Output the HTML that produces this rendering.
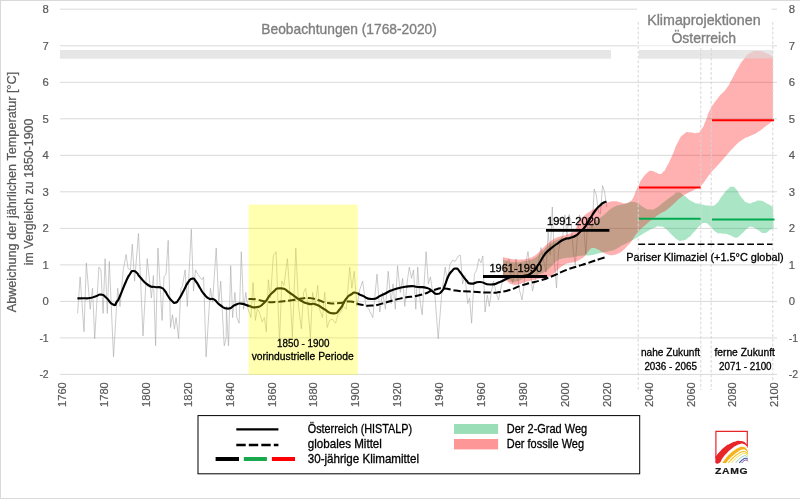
<!DOCTYPE html>
<html lang="de"><head><meta charset="utf-8"><title>Temperatur Österreich</title>
<style>html,body{margin:0;padding:0;background:#fff}body{width:800px;height:499px;overflow:hidden}svg{display:block}</style>
</head><body>
<svg width="800" height="499" viewBox="0 0 800 499" font-family="Liberation Sans, Arial, sans-serif">
<rect x="0" y="0" width="800" height="499" fill="#fff"/>
<line x1="60" x2="777" y1="374.4" y2="374.4" stroke="#d9d9d9" stroke-width="1"/>
<line x1="60" x2="777" y1="337.9" y2="337.9" stroke="#d9d9d9" stroke-width="1"/>
<line x1="60" x2="777" y1="301.4" y2="301.4" stroke="#d9d9d9" stroke-width="1"/>
<line x1="60" x2="777" y1="264.9" y2="264.9" stroke="#d9d9d9" stroke-width="1"/>
<line x1="60" x2="777" y1="228.4" y2="228.4" stroke="#d9d9d9" stroke-width="1"/>
<line x1="60" x2="777" y1="191.8" y2="191.8" stroke="#d9d9d9" stroke-width="1"/>
<line x1="60" x2="777" y1="155.3" y2="155.3" stroke="#d9d9d9" stroke-width="1"/>
<line x1="60" x2="777" y1="118.8" y2="118.8" stroke="#d9d9d9" stroke-width="1"/>
<line x1="60" x2="777" y1="82.3" y2="82.3" stroke="#d9d9d9" stroke-width="1"/>
<line x1="60" x2="777" y1="45.8" y2="45.8" stroke="#d9d9d9" stroke-width="1"/>
<line x1="60" x2="777" y1="9.2" y2="9.2" stroke="#d9d9d9" stroke-width="1"/>
<rect x="60" y="50" width="551" height="8.7" fill="#e6e6e6"/>
<rect x="639" y="50" width="133.8" height="8.7" fill="#e6e6e6"/>
<path d="M77.6,313.4 L80.1,276.9 L84.0,331.7 L86.3,262.9 L90.2,309.2 L92.5,288.2 L94.7,338.7 L98.9,267.1 L100.9,269.9 L103.1,313.4 L105.1,258.7 L107.3,313.4 L109.3,261.5 L113.5,356.9 L117.7,288.2 L120.0,306.4 L123.3,269.9 L126.1,254.5 L128.1,268.5 L130.4,269.9 L132.3,244.1 L134.6,281.1 L138.5,233.4 L143.0,335.9 L147.2,258.7 L151.4,298.0 L153.4,275.5 L155.6,345.7 L157.9,248.0 L162.1,320.4 L164.0,276.9 L166.0,274.1 L168.2,240.4 L170.5,327.5 L172.5,314.8 L174.4,328.9 L176.1,317.6 L178.6,338.7 L180.9,288.2 L182.3,286.8 L185.1,269.9 L187.3,306.4 L191.3,229.2 L193.5,291.0 L195.5,269.9 L197.7,274.1 L201.9,279.7 L203.6,276.9 L206.1,356.9 L210.4,288.2 L212.6,302.2 L216.2,248.0 L218.8,303.6 L220.7,281.1 L222.2,309.2 L224.2,345.7 L224.4,345.7 L226.2,337.3 L226.4,306.4 L228.4,345.7 L228.6,345.7 L230.7,265.7 L232.6,317.6 L234.9,292.4 L236.8,317.6 L239.1,323.2 L241.3,251.7 L243.6,309.2 L245.8,292.4 L248.1,309.2 L250.9,317.6 L253.1,282.5 L255.4,320.4 L257.3,309.2 L259.3,312.0 L262.1,321.8 L264.4,317.6 L266.3,331.7 L268.3,279.7 L270.5,298.0 L273.3,255.9 L276.1,251.7 L279.5,342.9 L281.8,281.1 L284.0,285.4 L287.4,258.7 L290.2,298.0 L292.4,337.3 L295.8,248.0 L298.6,306.4 L301.4,328.9 L303.6,292.4 L305.6,288.2 L307.6,303.6 L310.4,337.3 L312.6,292.4 L314.9,306.4 L317.7,285.4 L319.6,309.2 L322.5,317.6 L324.7,292.4 L327.2,327.5 L329.5,320.4 L332.3,319.0 L335.6,323.2 L337.9,314.8 L340.7,312.0 L343.5,306.4 L346.3,309.2 L349.7,267.1 L351.9,288.2 L354.2,271.3 L357.0,306.4 L359.8,289.6 L362.6,281.1 L366.0,306.4 L368.8,309.2 L372.8,317.6 L377.0,274.1 L379.8,312.0 L382.6,292.4 L385.4,309.2 L388.2,271.3 L391.1,303.6 L393.0,283.9 L395.3,309.2 L397.5,265.7 L400.3,292.4 L402.6,278.3 L404.8,306.4 L407.3,281.1 L409.3,267.1 L411.5,278.3 L413.5,269.9 L415.8,309.2 L417.7,267.1 L420.0,300.8 L422.2,314.8 L426.1,251.7 L428.4,283.9 L430.4,276.9 L432.3,289.6 L434.6,291.0 L438.2,338.7 L441.6,295.2 L445.2,267.1 L447.2,281.1 L450.0,264.3 L452.8,260.1 L455.1,261.5 L458.4,255.9 L460.4,255.3 L462.6,283.9 L464.9,275.5 L467.7,303.6 L469.6,298.0 L471.6,323.2 L474.4,274.1 L476.7,269.9 L478.9,258.7 L480.9,262.9 L482.8,255.9 L485.1,312.0 L487.3,295.2 L489.3,306.4 L491.3,292.4 L493.5,281.1 L496.0,292.0 L498.5,300.0 L500.5,290.0 L502.5,281.0 L504.7,270.0 L506.8,262.0 L509.0,259.0 L511.0,275.0 L512.8,283.0 L516.0,259.0 L518.0,280.0 L519.5,290.0 L522.0,300.0 L524.0,285.0 L526.0,262.0 L528.0,251.5 L530.0,268.0 L532.5,291.0 L535.0,280.0 L537.0,275.0 L539.0,258.0 L541.0,247.5 L543.9,262.0 L546.0,272.0 L548.1,232.0 L550.2,255.0 L552.3,207.0 L554.4,262.0 L556.5,288.0 L558.6,250.0 L560.7,240.0 L562.8,236.0 L564.9,215.0 L567.0,236.0 L569.1,214.5 L571.1,222.0 L573.2,250.0 L575.3,265.0 L577.4,236.0 L579.5,215.0 L581.6,222.0 L583.7,226.0 L585.8,254.0 L587.9,218.0 L590.0,222.0 L592.1,228.0 L594.2,189.0 L596.3,195.0 L598.4,212.0 L600.4,214.0 L602.5,185.5 L604.6,192.0 L606.7,207.0" fill="none" stroke="#a8a8a8" stroke-width="0.6" stroke-linejoin="round"/>
<path d="M503.0,259.5 C505.0,260.2 504.7,260.6 509.0,261.5 C513.3,262.4 511.7,262.1 516.0,262.2 C520.3,262.3 518.0,262.4 522.0,261.8 C526.0,261.2 524.0,261.6 528.0,260.5 C532.0,259.4 530.3,260.5 534.0,258.5 C537.7,256.5 535.7,257.5 539.0,254.5 C542.3,251.5 540.7,252.7 544.0,249.5 C547.3,246.3 545.7,247.7 549.0,245.0 C552.3,242.3 550.7,243.5 554.0,241.5 C557.3,239.5 555.7,240.3 559.0,239.0 C562.3,237.7 560.7,238.3 564.0,237.5 C567.3,236.7 565.7,237.2 569.0,236.5 C572.3,235.8 571.0,236.0 574.0,235.5 C577.0,235.0 574.3,236.8 578.0,235.0 C581.7,233.2 581.0,233.2 585.0,230.0 C589.0,226.8 586.7,228.3 590.0,225.5 C593.3,222.7 591.7,224.0 595.0,221.5 C598.3,219.0 596.7,220.5 600.0,218.0 C603.3,215.5 601.7,216.8 605.0,214.0 C608.3,211.2 606.7,212.0 610.0,209.5 C613.3,207.0 611.7,208.0 615.0,206.5 C618.3,205.0 616.7,205.8 620.0,205.0 C623.3,204.2 621.7,204.9 625.0,204.0 C628.3,203.1 627.0,203.0 630.0,202.3 C633.0,201.6 631.3,201.6 634.0,202.0 C636.7,202.4 634.7,201.7 638.0,203.5 C641.3,205.3 640.0,205.5 644.0,207.5 C648.0,209.5 646.0,209.3 650.0,209.5 C654.0,209.7 651.3,210.5 656.0,208.0 C660.7,205.5 658.7,206.0 664.0,202.0 C669.3,198.0 667.3,199.2 672.0,196.0 C676.7,192.8 674.0,192.7 678.0,192.5 C682.0,192.3 679.3,192.5 684.0,195.5 C688.7,198.5 686.7,198.7 692.0,201.5 C697.3,204.3 694.0,202.6 700.0,204.0 C706.0,205.4 704.7,205.6 710.0,205.6 C715.3,205.6 712.0,207.2 716.0,204.0 C720.0,200.8 718.0,201.0 722.0,196.0 C726.0,191.0 724.7,192.1 728.0,189.0 C731.3,185.9 729.3,186.8 732.0,186.8 C734.7,186.8 732.7,185.3 736.0,189.0 C739.3,192.7 738.0,193.3 742.0,198.0 C746.0,202.7 744.0,201.7 748.0,203.0 C752.0,204.3 750.0,202.8 754.0,202.0 C758.0,201.2 755.3,199.9 760.0,200.6 C764.7,201.3 763.7,201.9 768.0,204.0 C772.3,206.1 771.3,206.0 773.0,207.0 L773.6,228.0 C772.4,228.7 773.2,228.3 770.0,230.0 C766.8,231.7 768.0,233.0 764.0,233.0 C760.0,233.0 762.0,232.0 758.0,230.0 C754.0,228.0 755.3,227.7 752.0,227.0 C748.7,226.3 751.3,225.8 748.0,228.0 C744.7,230.2 745.7,230.4 742.0,233.6 C738.3,236.8 739.7,236.5 737.0,237.6 C734.3,238.7 737.0,238.1 734.0,237.0 C731.0,235.9 732.0,235.5 728.0,234.4 C724.0,233.3 726.0,234.4 722.0,233.6 C718.0,232.8 720.0,234.5 716.0,232.0 C712.0,229.5 713.7,229.0 710.0,226.0 C706.3,223.0 708.3,223.2 705.0,223.0 C701.7,222.8 703.7,222.5 700.0,225.5 C696.3,228.5 698.0,227.8 694.0,232.0 C690.0,236.2 692.0,235.1 688.0,238.0 C684.0,240.9 685.3,239.9 682.0,240.6 C678.7,241.3 681.3,241.9 678.0,240.0 C674.7,238.1 676.0,238.7 672.0,235.0 C668.0,231.3 670.0,231.9 666.0,229.0 C662.0,226.1 664.0,226.7 660.0,226.4 C656.0,226.1 658.7,226.1 654.0,228.0 C649.3,229.9 651.3,229.0 646.0,232.0 C640.7,235.0 643.3,233.8 638.0,237.0 C632.7,240.2 633.8,239.4 630.0,241.5 C626.2,243.6 629.3,241.8 626.6,243.2 C623.9,244.6 625.4,243.6 621.8,245.6 C618.2,247.6 619.8,247.4 615.8,249.2 C611.8,251.0 614.2,249.9 609.8,251.0 C605.4,252.1 607.0,251.6 602.6,252.6 C598.2,253.6 600.5,253.1 596.5,254.0 C592.5,254.9 595.3,254.7 590.5,255.3 C585.7,255.9 586.8,255.4 582.0,255.8 C577.2,256.2 579.7,255.9 576.0,256.5 C572.3,257.1 574.3,257.1 571.0,257.6 C567.7,258.1 569.3,257.5 566.0,258.0 C562.7,258.5 564.3,257.8 561.0,259.0 C557.7,260.2 559.0,259.3 556.0,261.5 C553.0,263.7 554.7,262.8 552.0,265.5 C549.3,268.2 550.7,267.2 548.0,269.5 C545.3,271.8 547.3,270.8 544.0,272.5 C540.7,274.2 542.3,273.3 538.0,274.5 C533.7,275.7 535.7,274.7 531.0,276.0 C526.3,277.3 528.3,276.8 524.0,278.5 C519.7,280.2 521.7,280.0 518.0,281.0 C514.3,282.0 516.3,282.0 513.0,281.5 C509.7,281.0 511.3,281.8 508.0,279.5 C504.7,277.2 504.7,276.2 503.0,274.5 Z" fill="rgb(0,176,80)" fill-opacity="0.333"/>
<path d="M503.0,257.0 C505.0,257.5 504.7,257.7 509.0,258.5 C513.3,259.3 511.7,259.2 516.0,259.5 C520.3,259.8 518.0,259.8 522.0,259.5 C526.0,259.2 524.0,259.7 528.0,258.5 C532.0,257.3 530.3,258.2 534.0,256.0 C537.7,253.8 535.7,255.0 539.0,252.0 C542.3,249.0 540.7,250.2 544.0,247.0 C547.3,243.8 545.7,245.2 549.0,242.5 C552.3,239.8 550.7,240.9 554.0,239.0 C557.3,237.1 555.7,238.0 559.0,236.8 C562.3,235.6 560.7,236.4 564.0,235.5 C567.3,234.6 565.7,235.5 569.0,234.0 C572.3,232.5 571.3,233.7 574.0,231.0 C576.7,228.3 575.0,229.7 577.0,226.0 C579.0,222.3 577.3,223.7 580.0,220.0 C582.7,216.3 581.7,217.8 585.0,215.0 C588.3,212.2 586.7,213.7 590.0,211.5 C593.3,209.3 591.7,210.3 595.0,208.5 C598.3,206.7 596.7,207.7 600.0,206.0 C603.3,204.3 601.7,204.9 605.0,203.5 C608.3,202.1 606.7,202.6 610.0,201.8 C613.3,201.0 611.7,201.1 615.0,201.2 C618.3,201.3 616.7,201.5 620.0,202.2 C623.3,202.9 621.7,203.4 625.0,203.2 C628.3,203.0 627.3,203.2 630.0,201.5 C632.7,199.8 631.0,201.5 633.0,198.0 C635.0,194.5 634.0,195.5 636.0,191.0 C638.0,186.5 637.0,188.5 639.0,184.5 C641.0,180.5 639.0,183.2 642.0,179.0 C645.0,174.8 644.7,174.7 648.0,172.0 C651.3,169.3 649.3,170.8 652.0,171.0 C654.7,171.2 653.3,171.5 656.0,172.5 C658.7,173.5 657.7,174.2 660.0,174.0 C662.3,173.8 661.0,174.0 663.0,172.0 C665.0,170.0 663.0,173.3 666.0,168.0 C669.0,162.7 668.0,164.7 672.0,156.0 C676.0,147.3 674.0,149.3 678.0,142.0 C682.0,134.7 680.0,137.2 684.0,134.0 C688.0,130.8 686.0,132.7 690.0,132.4 C694.0,132.1 692.3,133.8 696.0,133.0 C699.7,132.2 697.7,134.3 701.0,130.0 C704.3,125.7 703.0,126.7 706.0,120.0 C709.0,113.3 706.0,117.3 710.0,110.0 C714.0,102.7 712.7,105.0 718.0,98.0 C723.3,91.0 721.3,95.3 726.0,89.0 C730.7,82.7 728.0,86.0 732.0,79.0 C736.0,72.0 734.0,74.7 738.0,68.0 C742.0,61.3 740.0,64.0 744.0,59.0 C748.0,54.0 745.3,55.7 750.0,53.0 C754.7,50.3 752.7,51.0 758.0,51.0 C763.3,51.0 761.0,51.0 766.0,53.0 C771.0,55.0 770.7,55.7 773.0,57.0 L773.0,121.0 C770.7,122.7 771.0,122.3 766.0,126.0 C761.0,129.7 763.3,128.7 758.0,132.0 C752.7,135.3 755.3,133.3 750.0,136.0 C744.7,138.7 747.3,136.3 742.0,140.0 C736.7,143.7 739.3,141.7 734.0,147.0 C728.7,152.3 731.3,150.0 726.0,156.0 C720.7,162.0 723.3,159.0 718.0,165.0 C712.7,171.0 715.7,167.0 710.0,174.0 C704.3,181.0 705.7,181.0 701.0,186.0 C696.3,191.0 701.0,186.3 696.0,189.0 C691.0,191.7 691.5,190.8 686.0,194.0 C680.5,197.2 683.8,195.0 679.5,198.5 C675.2,202.0 677.3,200.7 673.0,204.5 C668.7,208.3 670.9,206.9 666.6,210.0 C662.3,213.1 664.2,211.0 660.0,213.7 C655.8,216.4 658.7,214.4 654.0,218.0 C649.3,221.6 651.3,219.8 646.0,224.5 C640.7,229.2 642.9,226.4 638.0,232.0 C633.1,237.6 634.8,236.9 631.4,241.4 C628.0,245.9 630.6,242.6 627.8,245.6 C625.0,248.6 626.2,247.9 623.0,250.5 C619.8,253.1 621.4,252.0 618.2,253.5 C615.0,255.0 616.6,254.5 613.4,254.9 C610.2,255.3 612.2,255.6 608.6,254.7 C605.0,253.8 606.1,254.0 602.6,252.3 C599.1,250.6 601.2,250.9 598.0,249.5 C594.8,248.1 596.0,247.7 593.0,248.0 C590.0,248.3 591.4,248.2 589.0,250.5 C586.6,252.8 588.0,252.4 585.7,255.0 C583.4,257.6 585.2,256.1 582.0,258.3 C578.8,260.5 579.7,260.0 576.0,261.5 C572.3,263.0 574.3,262.0 571.0,262.8 C567.7,263.6 569.3,262.6 566.0,264.0 C562.7,265.4 564.3,264.5 561.0,267.0 C557.7,269.5 559.0,268.8 556.0,271.5 C553.0,274.2 554.7,273.2 552.0,275.0 C549.3,276.8 550.7,276.2 548.0,277.0 C545.3,277.8 547.3,276.8 544.0,277.5 C540.7,278.2 542.3,278.0 538.0,279.0 C533.7,280.0 535.7,279.3 531.0,280.5 C526.3,281.7 528.3,281.2 524.0,282.5 C519.7,283.8 521.7,283.8 518.0,284.5 C514.3,285.2 516.3,285.3 513.0,284.5 C509.7,283.7 511.3,284.8 508.0,282.0 C504.7,279.2 504.7,278.0 503.0,276.0 Z" fill="rgb(255,0,0)" fill-opacity="0.31"/>
<rect x="738" y="50" width="35" height="8.6" fill="#e6e6e6" fill-opacity="0.62"/>
<rect x="637" y="2" width="134.5" height="46" fill="#fff"/>
<line x1="637" x2="771.5" y1="45.7" y2="45.7" stroke="#ececec" stroke-width="1"/>
<line x1="638.2" x2="638.2" y1="22" y2="390" stroke="#d6d6d6" stroke-width="1" stroke-dasharray="2.9,1.9"/>
<line x1="700.8" x2="700.8" y1="48" y2="390" stroke="#d6d6d6" stroke-width="1" stroke-dasharray="2.9,1.9"/>
<line x1="711.2" x2="711.2" y1="48" y2="390" stroke="#d6d6d6" stroke-width="1" stroke-dasharray="2.9,1.9"/>
<line x1="772.8" x2="772.8" y1="22" y2="381" stroke="#d6d6d6" stroke-width="1" stroke-dasharray="2.9,1.9"/>
<path d="M248.6,299.0 C251.1,299.1 250.2,298.5 256.0,299.4 C261.8,300.3 259.3,300.7 266.0,301.6 C272.7,302.5 268.0,302.4 276.0,302.0 C284.0,301.6 281.3,301.5 290.0,300.4 C298.7,299.3 295.7,299.4 302.0,298.6 C308.3,297.8 303.7,297.5 309.0,298.0 C314.3,298.5 311.7,298.3 318.0,300.0 C324.3,301.7 320.7,302.0 328.0,303.0 C335.3,304.0 332.7,303.5 340.0,303.0 C347.3,302.5 343.3,301.0 350.0,301.5 C356.7,302.0 352.7,303.0 360.0,304.4 C367.3,305.8 364.7,305.9 372.0,305.6 C379.3,305.3 372.7,305.9 382.0,303.6 C391.3,301.3 387.3,301.5 400.0,298.6 C412.7,295.7 408.7,297.9 420.0,295.0 C431.3,292.1 426.0,292.2 434.0,290.0 C442.0,287.8 436.7,288.2 444.0,288.4 C451.3,288.6 447.3,289.5 456.0,290.6 C464.7,291.7 458.7,290.9 470.0,291.6 C481.3,292.3 480.0,292.5 490.0,292.6 C500.0,292.7 493.5,292.9 500.0,292.0 C506.5,291.1 502.9,292.0 509.6,290.0 C516.3,288.0 513.2,288.3 520.0,286.0 C526.8,283.7 523.3,284.8 530.0,283.0 C536.7,281.2 532.7,282.7 540.0,280.5 C547.3,278.3 544.0,279.5 552.0,276.3 C560.0,273.1 556.0,274.1 564.0,270.9 C572.0,267.7 568.0,269.3 576.0,266.7 C584.0,264.1 580.0,265.6 588.0,263.0 C596.0,260.4 594.2,260.8 600.0,258.9 C605.8,257.0 603.7,257.8 605.5,257.2" fill="none" stroke="#000" stroke-width="2" stroke-dasharray="7.2,2.8"/>
<path d="M77.4,298.4 C79.6,298.4 79.8,298.4 84.0,298.3 C88.2,298.2 86.0,298.7 90.0,298.0 C94.0,297.3 92.3,297.3 96.0,296.2 C99.7,295.1 97.7,294.2 101.0,294.6 C104.3,295.0 102.0,294.2 106.0,297.5 C110.0,300.8 109.3,303.3 113.0,304.6 C116.7,305.9 114.7,304.4 117.0,301.5 C119.3,298.6 117.0,302.7 120.0,296.0 C123.0,289.3 122.7,288.8 126.0,281.5 C129.3,274.2 127.7,277.5 130.0,274.0 C132.3,270.5 130.7,271.3 133.0,271.0 C135.3,270.7 134.7,271.0 137.0,273.0 C139.3,275.0 136.3,273.0 140.0,277.0 C143.7,281.0 143.0,281.7 148.0,285.0 C153.0,288.3 150.7,286.1 155.0,287.0 C159.3,287.9 157.7,286.3 161.0,287.6 C164.3,288.9 162.7,288.2 165.0,291.0 C167.3,293.8 165.7,292.7 168.0,296.0 C170.3,299.3 169.5,298.8 172.0,301.0 C174.5,303.2 173.1,303.3 175.4,302.6 C177.7,301.9 176.1,303.2 179.0,299.0 C181.9,294.8 181.0,295.5 184.0,290.0 C187.0,284.5 185.2,286.3 188.0,282.5 C190.8,278.7 189.7,278.9 192.4,278.6 C195.1,278.3 193.5,278.4 196.0,281.5 C198.5,284.6 197.3,283.8 200.0,288.0 C202.7,292.2 201.0,290.5 204.0,294.0 C207.0,297.5 205.7,296.8 209.0,298.6 C212.3,300.4 210.3,297.3 214.0,299.4 C217.7,301.5 215.3,301.9 220.0,305.0 C224.7,308.1 223.0,308.6 228.0,308.6 C233.0,308.6 230.7,306.7 235.0,305.0 C239.3,303.3 236.7,303.4 241.0,303.6 C245.3,303.8 243.0,304.4 248.0,305.6 C253.0,306.8 250.7,308.1 256.0,307.2 C261.3,306.3 258.7,307.7 264.0,303.0 C269.3,298.3 266.3,297.9 272.0,293.0 C277.7,288.1 275.0,288.4 281.0,288.4 C287.0,288.4 283.7,289.1 290.0,293.0 C296.3,296.9 294.0,296.5 300.0,300.0 C306.0,303.5 302.7,302.1 308.0,303.6 C313.3,305.1 310.7,302.6 316.0,304.4 C321.3,306.2 318.3,306.0 324.0,309.0 C329.7,312.0 327.7,313.4 333.0,313.4 C338.3,313.4 335.7,313.8 340.0,309.0 C344.3,304.2 342.3,303.8 346.0,299.0 C349.7,294.2 347.8,296.6 351.0,294.5 C354.2,292.4 351.8,292.4 355.5,292.8 C359.2,293.2 356.5,293.5 362.0,295.6 C367.5,297.7 365.3,299.2 372.0,299.0 C378.7,298.8 374.7,298.1 382.0,295.0 C389.3,291.9 385.3,292.5 394.0,289.6 C402.7,286.7 400.0,287.3 408.0,286.4 C416.0,285.5 411.7,286.5 418.0,287.0 C424.3,287.5 422.3,286.7 427.0,288.0 C431.7,289.3 428.7,289.0 432.0,291.0 C435.3,293.0 433.7,294.0 437.0,294.0 C440.3,294.0 439.3,294.0 442.0,291.0 C444.7,288.0 443.0,289.7 445.0,285.0 C447.0,280.3 445.7,281.7 448.0,277.0 C450.3,272.3 449.3,273.8 452.0,271.0 C454.7,268.2 453.3,268.3 456.0,268.6 C458.7,268.9 456.7,268.2 460.0,272.0 C463.3,275.8 462.3,276.1 466.0,280.0 C469.7,283.9 466.3,282.9 471.0,283.6 C475.7,284.3 473.7,281.7 480.0,282.0 C486.3,282.3 483.3,284.5 490.0,284.5 C496.7,284.5 493.5,284.4 500.0,282.0 C506.5,279.6 503.9,279.3 509.6,277.4 C515.3,275.5 512.2,276.8 517.0,276.3 C521.8,275.8 519.0,277.0 524.0,275.8 C529.0,274.6 527.2,276.4 532.0,272.6 C536.8,268.8 534.7,269.9 538.5,264.5 C542.3,259.1 540.1,261.0 543.3,256.5 C546.5,252.0 543.8,254.9 548.0,250.9 C552.2,246.9 550.7,248.3 556.0,244.5 C561.3,240.7 559.3,241.7 564.0,239.5 C568.7,237.3 566.0,239.3 570.0,238.0 C574.0,236.7 572.7,237.5 576.0,235.5 C579.3,233.5 577.0,234.8 580.0,232.0 C583.0,229.2 581.7,231.3 585.0,227.0 C588.3,222.7 586.7,224.3 590.0,219.0 C593.3,213.7 591.7,215.5 595.0,211.0 C598.3,206.5 597.0,208.3 600.0,205.5 C603.0,202.7 601.8,203.7 604.0,202.5 C606.2,201.3 605.7,202.0 606.5,201.8" fill="none" stroke="#000" stroke-width="2.15" stroke-linejoin="round"/>
<line x1="483" x2="547" y1="276.5" y2="276.5" stroke="#000" stroke-width="2.8"/>
<line x1="546" x2="609.4" y1="230.4" y2="230.4" stroke="#000" stroke-width="2.8"/>
<line x1="639" x2="700.6" y1="187.4" y2="187.4" stroke="#ff0000" stroke-width="2.0"/>
<line x1="712" x2="774" y1="120.3" y2="120.3" stroke="#ff0000" stroke-width="2.0"/>
<line x1="639" x2="700.6" y1="218.8" y2="218.8" stroke="#00a84f" stroke-width="2.0"/>
<line x1="712" x2="774.5" y1="219.5" y2="219.5" stroke="#00a84f" stroke-width="2.0"/>
<line x1="638.3" x2="772.5" y1="244.2" y2="244.2" stroke="#000" stroke-width="1.6" stroke-dasharray="6.8,3.1"/>
<rect x="248.6" y="204.6" width="109.2" height="170.3" fill="rgb(255,255,0)" fill-opacity="0.314"/>
<text x="39.4" y="378.4" font-size="11.20" fill="#595959" textLength="9.3" lengthAdjust="spacingAndGlyphs" stroke="#595959" stroke-width="0.20">-2</text>
<text x="788.7" y="378.4" font-size="11.20" fill="#595959" textLength="9.3" lengthAdjust="spacingAndGlyphs" stroke="#595959" stroke-width="0.20">-2</text>
<text x="39.4" y="341.9" font-size="11.20" fill="#595959" textLength="9.3" lengthAdjust="spacingAndGlyphs" stroke="#595959" stroke-width="0.20">-1</text>
<text x="788.7" y="341.9" font-size="11.20" fill="#595959" textLength="9.3" lengthAdjust="spacingAndGlyphs" stroke="#595959" stroke-width="0.20">-1</text>
<text x="42.4" y="305.4" font-size="11.20" fill="#595959" textLength="6.3" lengthAdjust="spacingAndGlyphs" stroke="#595959" stroke-width="0.20">0</text>
<text x="788.7" y="305.4" font-size="11.20" fill="#595959" textLength="6.3" lengthAdjust="spacingAndGlyphs" stroke="#595959" stroke-width="0.20">0</text>
<text x="42.4" y="268.9" font-size="11.20" fill="#595959" textLength="6.3" lengthAdjust="spacingAndGlyphs" stroke="#595959" stroke-width="0.20">1</text>
<text x="788.7" y="268.9" font-size="11.20" fill="#595959" textLength="6.3" lengthAdjust="spacingAndGlyphs" stroke="#595959" stroke-width="0.20">1</text>
<text x="42.4" y="232.4" font-size="11.20" fill="#595959" textLength="6.3" lengthAdjust="spacingAndGlyphs" stroke="#595959" stroke-width="0.20">2</text>
<text x="788.7" y="232.4" font-size="11.20" fill="#595959" textLength="6.3" lengthAdjust="spacingAndGlyphs" stroke="#595959" stroke-width="0.20">2</text>
<text x="42.4" y="195.8" font-size="11.20" fill="#595959" textLength="6.3" lengthAdjust="spacingAndGlyphs" stroke="#595959" stroke-width="0.20">3</text>
<text x="788.7" y="195.8" font-size="11.20" fill="#595959" textLength="6.3" lengthAdjust="spacingAndGlyphs" stroke="#595959" stroke-width="0.20">3</text>
<text x="42.4" y="159.3" font-size="11.20" fill="#595959" textLength="6.3" lengthAdjust="spacingAndGlyphs" stroke="#595959" stroke-width="0.20">4</text>
<text x="788.7" y="159.3" font-size="11.20" fill="#595959" textLength="6.3" lengthAdjust="spacingAndGlyphs" stroke="#595959" stroke-width="0.20">4</text>
<text x="42.4" y="122.8" font-size="11.20" fill="#595959" textLength="6.3" lengthAdjust="spacingAndGlyphs" stroke="#595959" stroke-width="0.20">5</text>
<text x="788.7" y="122.8" font-size="11.20" fill="#595959" textLength="6.3" lengthAdjust="spacingAndGlyphs" stroke="#595959" stroke-width="0.20">5</text>
<text x="42.4" y="86.3" font-size="11.20" fill="#595959" textLength="6.3" lengthAdjust="spacingAndGlyphs" stroke="#595959" stroke-width="0.20">6</text>
<text x="788.7" y="86.3" font-size="11.20" fill="#595959" textLength="6.3" lengthAdjust="spacingAndGlyphs" stroke="#595959" stroke-width="0.20">6</text>
<text x="42.4" y="49.8" font-size="11.20" fill="#595959" textLength="6.3" lengthAdjust="spacingAndGlyphs" stroke="#595959" stroke-width="0.20">7</text>
<text x="788.7" y="49.8" font-size="11.20" fill="#595959" textLength="6.3" lengthAdjust="spacingAndGlyphs" stroke="#595959" stroke-width="0.20">7</text>
<text x="42.4" y="13.2" font-size="11.20" fill="#595959" textLength="6.3" lengthAdjust="spacingAndGlyphs" stroke="#595959" stroke-width="0.20">8</text>
<text x="788.7" y="13.2" font-size="11.20" fill="#595959" textLength="6.3" lengthAdjust="spacingAndGlyphs" stroke="#595959" stroke-width="0.20">8</text>
<text transform="translate(66.0,407) rotate(-90)" font-size="11.0" stroke="#595959" stroke-width="0.2" fill="#595959" textLength="24.8" lengthAdjust="spacingAndGlyphs">1760</text>
<text transform="translate(107.9,407) rotate(-90)" font-size="11.0" stroke="#595959" stroke-width="0.2" fill="#595959" textLength="24.8" lengthAdjust="spacingAndGlyphs">1780</text>
<text transform="translate(149.8,407) rotate(-90)" font-size="11.0" stroke="#595959" stroke-width="0.2" fill="#595959" textLength="24.8" lengthAdjust="spacingAndGlyphs">1800</text>
<text transform="translate(191.7,407) rotate(-90)" font-size="11.0" stroke="#595959" stroke-width="0.2" fill="#595959" textLength="24.8" lengthAdjust="spacingAndGlyphs">1820</text>
<text transform="translate(233.6,407) rotate(-90)" font-size="11.0" stroke="#595959" stroke-width="0.2" fill="#595959" textLength="24.8" lengthAdjust="spacingAndGlyphs">1840</text>
<text transform="translate(275.5,407) rotate(-90)" font-size="11.0" stroke="#595959" stroke-width="0.2" fill="#595959" textLength="24.8" lengthAdjust="spacingAndGlyphs">1860</text>
<text transform="translate(317.4,407) rotate(-90)" font-size="11.0" stroke="#595959" stroke-width="0.2" fill="#595959" textLength="24.8" lengthAdjust="spacingAndGlyphs">1880</text>
<text transform="translate(359.3,407) rotate(-90)" font-size="11.0" stroke="#595959" stroke-width="0.2" fill="#595959" textLength="24.8" lengthAdjust="spacingAndGlyphs">1900</text>
<text transform="translate(401.2,407) rotate(-90)" font-size="11.0" stroke="#595959" stroke-width="0.2" fill="#595959" textLength="24.8" lengthAdjust="spacingAndGlyphs">1920</text>
<text transform="translate(443.1,407) rotate(-90)" font-size="11.0" stroke="#595959" stroke-width="0.2" fill="#595959" textLength="24.8" lengthAdjust="spacingAndGlyphs">1940</text>
<text transform="translate(485.0,407) rotate(-90)" font-size="11.0" stroke="#595959" stroke-width="0.2" fill="#595959" textLength="24.8" lengthAdjust="spacingAndGlyphs">1960</text>
<text transform="translate(526.9,407) rotate(-90)" font-size="11.0" stroke="#595959" stroke-width="0.2" fill="#595959" textLength="24.8" lengthAdjust="spacingAndGlyphs">1980</text>
<text transform="translate(568.8,407) rotate(-90)" font-size="11.0" stroke="#595959" stroke-width="0.2" fill="#595959" textLength="24.8" lengthAdjust="spacingAndGlyphs">2000</text>
<text transform="translate(610.7,407) rotate(-90)" font-size="11.0" stroke="#595959" stroke-width="0.2" fill="#595959" textLength="24.8" lengthAdjust="spacingAndGlyphs">2020</text>
<text transform="translate(652.6,407) rotate(-90)" font-size="11.0" stroke="#595959" stroke-width="0.2" fill="#595959" textLength="24.8" lengthAdjust="spacingAndGlyphs">2040</text>
<text transform="translate(694.5,407) rotate(-90)" font-size="11.0" stroke="#595959" stroke-width="0.2" fill="#595959" textLength="24.8" lengthAdjust="spacingAndGlyphs">2060</text>
<text transform="translate(736.4,407) rotate(-90)" font-size="11.0" stroke="#595959" stroke-width="0.2" fill="#595959" textLength="24.8" lengthAdjust="spacingAndGlyphs">2080</text>
<text transform="translate(778.3,407) rotate(-90)" font-size="11.0" stroke="#595959" stroke-width="0.2" fill="#595959" textLength="24.8" lengthAdjust="spacingAndGlyphs">2100</text>
<text transform="translate(16.3,312.3) rotate(-90)" font-size="12.6" stroke="#595959" stroke-width="0.25" fill="#595959" textLength="240.5" lengthAdjust="spacingAndGlyphs">Abweichung der jährlichen Temperatur [°C]</text>
<text transform="translate(32.5,265.2) rotate(-90)" font-size="12.6" stroke="#595959" stroke-width="0.25" fill="#595959" textLength="146.5" lengthAdjust="spacingAndGlyphs">im Vergleich zu 1850-1900</text>
<text x="261.3" y="34.3" font-size="14.60" fill="#7f7f7f" textLength="175.6" lengthAdjust="spacingAndGlyphs" stroke="#7f7f7f" stroke-width="0.35">Beobachtungen (1768-2020)</text>
<text x="647.2" y="25.4" font-size="14.60" fill="#7f7f7f" textLength="113.4" lengthAdjust="spacingAndGlyphs" stroke="#7f7f7f" stroke-width="0.35">Klimaprojektionen</text>
<text x="671.4" y="43.3" font-size="14.60" fill="#7f7f7f" textLength="64.6" lengthAdjust="spacingAndGlyphs" stroke="#7f7f7f" stroke-width="0.35">Österreich</text>
<text x="489.4" y="272.0" font-size="10.80" fill="#000" textLength="52.8" lengthAdjust="spacingAndGlyphs" stroke="#000" stroke-width="0.30">1961-1990</text>
<text x="547.0" y="225.4" font-size="10.80" fill="#000" textLength="53.0" lengthAdjust="spacingAndGlyphs" stroke="#000" stroke-width="0.30">1991-2020</text>
<text x="626.3" y="260.9" font-size="10.80" fill="#000" textLength="157.3" lengthAdjust="spacingAndGlyphs" stroke="#000" stroke-width="0.30">Pariser Klimaziel (+1.5°C global)</text>
<text x="641.0" y="356.0" font-size="10.40" fill="#000" textLength="59.0" lengthAdjust="spacingAndGlyphs" stroke="#000" stroke-width="0.30">nahe Zukunft</text>
<text x="644.4" y="369.6" font-size="10.40" fill="#000" textLength="52.6" lengthAdjust="spacingAndGlyphs" stroke="#000" stroke-width="0.30">2036 - 2065</text>
<text x="714.4" y="356.0" font-size="10.40" fill="#000" textLength="60.6" lengthAdjust="spacingAndGlyphs" stroke="#000" stroke-width="0.30">ferne Zukunft</text>
<text x="719.0" y="369.6" font-size="10.40" fill="#000" textLength="52.6" lengthAdjust="spacingAndGlyphs" stroke="#000" stroke-width="0.30">2071 - 2100</text>
<text x="277.0" y="346.6" font-size="10.40" fill="#000" textLength="52.5" lengthAdjust="spacingAndGlyphs" stroke="#000" stroke-width="0.30">1850 - 1900</text>
<text x="251.7" y="359.6" font-size="10.40" fill="#000" textLength="102.0" lengthAdjust="spacingAndGlyphs" stroke="#000" stroke-width="0.30">vorindustrielle Periode</text>
<rect x="198" y="415.6" width="441.7" height="58.2" fill="#fff" stroke="#000" stroke-width="1"/>
<line x1="236.3" x2="278.4" y1="429.4" y2="429.4" stroke="#000" stroke-width="2.4"/>
<line x1="236.3" x2="278.4" y1="445" y2="445" stroke="#000" stroke-width="2.4" stroke-dasharray="9.4,3.1"/>
<line x1="215.6" x2="239" y1="459" y2="459" stroke="#000" stroke-width="4"/>
<line x1="243.8" x2="266.9" y1="459" y2="459" stroke="#1aa84f" stroke-width="4"/>
<line x1="271.9" x2="295" y1="459" y2="459" stroke="#ff0000" stroke-width="4"/>
<text x="307.8" y="432.8" font-size="11.90" fill="#000" textLength="104.3" lengthAdjust="spacingAndGlyphs" stroke="#000" stroke-width="0.30">Österreich (HISTALP)</text>
<text x="307.8" y="448.4" font-size="11.90" fill="#000" textLength="74.1" lengthAdjust="spacingAndGlyphs" stroke="#000" stroke-width="0.30">globales Mittel</text>
<text x="307.8" y="462.7" font-size="11.90" fill="#000" textLength="111.2" lengthAdjust="spacingAndGlyphs" stroke="#000" stroke-width="0.30">30-jährige Klimamittel</text>
<rect x="454" y="424" width="44.1" height="9.9" fill="#99deb6"/>
<rect x="454" y="439" width="44.1" height="10.4" fill="#fd9696"/>
<text x="506.8" y="432.6" font-size="11.90" fill="#000" textLength="80.3" lengthAdjust="spacingAndGlyphs" stroke="#000" stroke-width="0.30">Der 2-Grad Weg</text>
<text x="506.8" y="447.8" font-size="11.90" fill="#000" textLength="77.3" lengthAdjust="spacingAndGlyphs" stroke="#000" stroke-width="0.30">Der fossile Weg</text>
<g id="logo">
<path d="M715.9,458 V431.3 H747.3 V446" fill="none" stroke="#e8262a" stroke-width="1.2"/>
<path d="M715.3,457.0 C716.7,455.3 716.4,455.3 719.5,452.0 C722.6,448.7 721.0,449.8 724.5,447.0 C728.0,444.2 726.3,445.5 730.0,443.7 C733.7,441.9 732.3,442.4 735.6,441.5 C738.9,440.6 737.2,440.9 739.8,440.9 C742.4,440.9 741.2,440.7 743.3,441.6 C745.4,442.5 744.5,442.0 746.0,443.6 C747.5,445.2 747.3,445.5 747.9,446.5 L747.9,448.2 C747.3,447.3 747.5,446.8 746.0,445.4 C744.5,444.0 745.2,444.3 743.3,443.9 C741.4,443.5 742.5,443.5 740.2,444.1 C737.9,444.7 739.3,444.0 736.4,445.6 C733.5,447.2 734.7,446.4 731.6,448.8 C728.5,451.2 730.1,449.8 727.2,452.8 C724.3,455.8 725.4,454.4 722.8,457.8 C720.2,461.2 721.8,461.3 719.3,463.0 C716.8,464.7 716.6,463.0 715.3,463.0 Z" fill="#e8262a"/>
<path d="M722.3,463.0 C723.5,461.3 723.4,461.1 726.0,458.0 C728.6,454.9 727.2,456.3 730.0,453.7 C732.8,451.1 731.5,452.2 734.5,450.2 C737.5,448.2 736.4,448.8 738.9,447.7 C741.4,446.6 740.2,447.0 742.0,446.8 C743.8,446.6 742.9,446.5 744.4,447.2 C745.9,447.9 745.2,447.4 746.4,448.8 C747.6,450.2 747.4,450.6 747.9,451.5 L747.9,453.1 C747.1,452.1 747.1,451.2 745.5,450.0 C743.9,448.8 744.8,449.4 743.0,449.6 C741.2,449.8 742.1,449.5 740.0,450.5 C737.9,451.5 739.0,450.9 736.8,452.5 C734.6,454.1 735.8,453.2 733.4,455.3 C731.0,457.4 732.0,456.2 729.6,458.8 C727.2,461.4 727.3,461.6 726.2,463.0 Z" fill="#f6b21b"/>
<path d="M728.4,463.0 C729.7,461.5 729.5,461.2 732.3,458.5 C735.1,455.8 734.1,456.8 736.7,454.8 C739.3,452.8 738.0,453.7 740.2,452.6 C742.4,451.5 741.4,451.7 743.3,451.6 C745.2,451.5 744.5,451.4 746.0,452.3 C747.5,453.2 747.3,453.6 747.9,454.2" fill="none" stroke="#f8c41c" stroke-width="1.1"/>
<path d="M731.7,463.0 C732.8,461.7 732.6,461.6 735.0,459.2 C737.4,456.8 736.6,457.6 738.9,455.9 C741.2,454.2 740.0,455.0 741.8,454.2 C743.6,453.4 742.9,453.5 744.4,453.5 C745.9,453.5 745.2,453.4 746.4,454.2 C747.6,455.0 747.4,455.3 747.9,455.9" fill="none" stroke="#f2dc45" stroke-width="1.0"/>
<path d="M735.6,463.0 C736.5,462.0 736.4,461.8 738.2,460.0 C740.0,458.2 739.4,458.8 741.1,457.5 C742.8,456.2 741.9,456.8 743.4,456.2 C744.9,455.6 744.0,455.4 745.5,455.8 C747.0,456.2 747.1,456.9 747.9,457.5" fill="none" stroke="#8fd0b0" stroke-width="1.0"/>
<path d="M739.4,463.0 C740.0,462.3 739.9,462.2 741.2,460.9 C742.5,459.6 741.7,460.1 743.3,459.2 C744.9,458.3 744.5,458.1 746.0,458.2 C747.5,458.3 747.3,459.0 747.9,459.4" fill="none" stroke="#3f5fae" stroke-width="1.1"/>
<path d="M741.6,463.0 C742.5,462.2 742.7,461.5 744.4,460.6 C746.1,459.7 745.4,460.0 746.6,460.2 C747.8,460.4 747.5,460.9 747.9,461.2" fill="none" stroke="#8a3a98" stroke-width="1.0"/>
<text x="715.1" y="473.7" font-size="9.5" font-weight="bold" fill="#1a1a1a" stroke="#1a1a1a" stroke-width="0.2" letter-spacing="0.6" textLength="33.2" lengthAdjust="spacingAndGlyphs">ZAMG</text>
</g>
<line x1="0" x2="800" y1="0.5" y2="0.5" stroke="#d9d9d9" stroke-width="1"/>
<line x1="0.5" x2="0.5" y1="0" y2="499" stroke="#d9d9d9" stroke-width="1"/>
<line x1="0" x2="800" y1="498.5" y2="498.5" stroke="#d9d9d9" stroke-width="1"/>
</svg>
</body></html>
